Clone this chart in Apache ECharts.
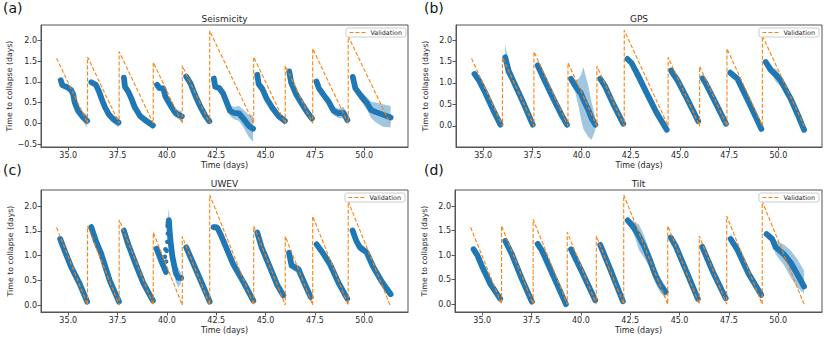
<!DOCTYPE html>
<html><head><meta charset="utf-8">
<script src="https://cdn.jsdelivr.net/npm/echarts@6/dist/echarts.min.js"></script>
<style>html,body{margin:0;padding:0;background:#fff}#c{width:830px;height:341px}</style>
</head><body><div id="c"></div>
<script>
// ---------------- data ----------------
const panelTitles = ['Seismicity', 'GPS', 'UWEV', 'Tilt'];
const panelLetters = ['(a)', '(b)', '(c)', '(d)'];
const xTicks = [35, 37.5, 40, 42.5, 45, 47.5, 50];
const yTicksA = [-0.5, 0, 0.5, 1, 1.5, 2];
const yTicksBCD = [0, 0.5, 1, 1.5, 2];

// Validation sawtooth vertices (time, time to collapse)
const validT = [34.41, 35.98, 35.98, 37.58, 37.58, 39.31, 39.31, 40.78, 40.78, 42.17, 42.17, 44.40, 44.40, 46.00, 46.00, 47.39, 47.39, 49.19, 49.19, 51.31];
const validV = [1.57, 0, 1.60, 0, 1.73, 0, 1.47, 0, 1.39, 0, 2.23, 0, 1.60, 0, 1.39, 0, 1.80, 0, 2.10, 0];

// Predictions per cycle: [time, mean, lower, upper]
const seismicity = [
  [[34.62,1.04,0.97,1.11],[34.70,0.92,0.86,0.98],[34.95,0.87,0.81,0.93],[35.15,0.80,0.73,0.87],[35.25,0.70,0.62,0.78],[35.33,0.50,0.42,0.58],[35.50,0.30,0.21,0.39],[35.75,0.15,0.03,0.27],[35.96,0.06,-0.09,0.21]],
  [[36.17,0.99,0.94,1.04],[36.40,0.93,0.88,0.98],[36.55,0.78,0.72,0.84],[36.70,0.58,0.51,0.65],[36.85,0.40,0.33,0.47],[37.05,0.22,0.14,0.30],[37.30,0.09,-0.01,0.19],[37.55,0.02,-0.10,0.14]],
  [[37.82,1.10,1.04,1.16],[37.88,0.88,0.81,0.95],[38.05,0.76,0.69,0.83],[38.20,0.60,0.53,0.67],[38.38,0.38,0.30,0.46],[38.65,0.17,0.09,0.25],[38.95,0.06,-0.03,0.15],[39.29,-0.05,-0.15,0.05]],
  [[39.50,0.93,0.88,0.98],[39.62,0.85,0.80,0.90],[39.82,0.84,0.78,0.90],[39.92,0.65,0.58,0.72],[40.10,0.50,0.42,0.58],[40.25,0.38,0.29,0.47],[40.45,0.24,0.14,0.34],[40.76,0.17,0.05,0.29]],
  [[40.98,1.13,1.07,1.19],[41.20,0.96,0.88,1.04],[41.45,0.66,0.58,0.74],[41.70,0.40,0.31,0.49],[41.95,0.18,0.09,0.27],[42.15,0.05,-0.03,0.13]],
  [[42.38,1.08,1.03,1.13],[42.45,0.88,0.82,0.94],[42.65,0.85,0.78,0.92],[42.85,0.72,0.64,0.80],[43.05,0.48,0.38,0.58],[43.20,0.30,0.18,0.42],[43.40,0.25,0.10,0.40],[43.65,0.24,0.06,0.42],[43.90,0.10,-0.12,0.32],[44.15,-0.06,-0.33,0.21],[44.37,-0.13,-0.45,0.19]],
  [[44.58,1.17,1.10,1.24],[44.65,0.95,0.87,1.03],[44.85,0.82,0.74,0.90],[45.05,0.60,0.51,0.69],[45.35,0.37,0.28,0.46],[45.65,0.18,0.09,0.27],[45.98,0.06,-0.04,0.16]],
  [[46.20,1.25,1.17,1.33],[46.30,0.98,0.89,1.07],[46.55,0.70,0.60,0.80],[46.85,0.46,0.36,0.56],[47.15,0.24,0.14,0.34],[47.35,0.12,0.03,0.21]],
  [[47.58,1.01,0.95,1.07],[47.70,0.85,0.78,0.92],[47.95,0.68,0.60,0.76],[48.20,0.52,0.42,0.62],[48.45,0.30,0.20,0.40],[48.70,0.24,0.12,0.36],[48.95,0.26,0.12,0.40],[49.15,0.08,-0.04,0.20]],
  [[49.42,1.12,1.04,1.20],[49.55,0.85,0.75,0.95],[49.85,0.65,0.53,0.77],[50.15,0.48,0.33,0.63],[50.35,0.32,0.12,0.52],[50.60,0.27,0.02,0.50],[50.95,0.21,-0.08,0.46],[51.34,0.14,-0.10,0.42]]
];
const gps = [
  [[34.56,1.21,1.16,1.26],[34.80,1.05,0.97,1.13],[35.10,0.78,0.72,0.84],[35.50,0.38,0.33,0.43],[35.88,0.03,-0.01,0.07]],
  [[36.12,1.60,1.25,1.92],[36.30,1.28,1.12,1.42],[36.60,0.98,0.91,1.05],[37.00,0.58,0.53,0.63],[37.52,0.03,-0.01,0.07]],
  [[37.77,1.41,1.36,1.46],[38.00,1.18,1.13,1.23],[38.50,0.70,0.65,0.75],[39.00,0.24,0.20,0.28],[39.26,0.03,-0.01,0.07]],
  [[39.46,1.10,1.05,1.15],[39.65,0.95,0.85,1.05],[39.85,0.82,0.45,1.10],[39.97,0.76,0.16,1.18],[40.09,0.62,-0.07,1.37],[40.34,0.38,-0.26,0.94],[40.51,0.18,-0.32,0.55],[40.70,0.03,-0.10,0.20]],
  [[40.95,1.10,1.05,1.15],[41.20,0.92,0.86,0.98],[41.60,0.52,0.47,0.57],[42.12,0.05,0.01,0.09]],
  [[42.33,1.56,1.52,1.60],[42.55,1.46,1.40,1.52],[42.90,1.15,1.00,1.30],[43.30,0.78,0.62,0.92],[43.80,0.32,0.20,0.44],[44.33,-0.09,-0.18,0.00]],
  [[44.55,1.29,1.24,1.34],[44.88,1.06,1.00,1.12],[45.40,0.60,0.55,0.65],[45.93,0.11,0.07,0.15]],
  [[46.15,1.11,1.06,1.16],[46.30,1.00,0.95,1.05],[46.80,0.55,0.50,0.60],[47.34,0.05,0.01,0.09]],
  [[47.56,1.24,1.19,1.29],[47.92,1.10,1.05,1.15],[48.50,0.55,0.48,0.62],[49.14,-0.07,-0.12,-0.02]],
  [[49.36,1.49,1.44,1.54],[49.62,1.30,1.22,1.38],[49.90,1.18,1.02,1.32],[50.12,1.06,0.92,1.20],[50.63,0.63,0.53,0.73],[51.00,0.25,0.15,0.35],[51.31,-0.09,-0.18,0.00]]
];
const uwev = [
  [[34.59,1.34,1.29,1.39],[34.82,1.10,1.05,1.15],[35.15,0.77,0.71,0.83],[35.58,0.43,0.38,0.48],[35.96,0.07,0.03,0.11]],
  [[36.17,1.58,1.53,1.63],[36.40,1.30,1.25,1.35],[36.67,1.04,0.98,1.10],[37.10,0.50,0.45,0.55],[37.57,0.07,0.03,0.11]],
  [[37.82,1.51,1.46,1.56],[38.03,1.24,1.16,1.32],[38.40,0.85,0.78,0.92],[38.80,0.45,0.40,0.50],[39.29,0.09,0.05,0.13]],
  [[39.48,1.14,1.08,1.20],[39.71,0.90,0.84,0.96],[39.95,0.67,0.61,0.73]],
  [[40.07,1.60,1.40,1.85],[40.10,1.72,1.50,1.95],[40.17,1.35,1.15,1.55],[40.27,1.00,0.85,1.15],[40.45,0.65,0.48,0.82],[40.58,0.55,0.35,0.75],[40.72,0.55,0.45,0.65]],
  [[40.98,1.17,1.12,1.22],[41.23,0.94,0.88,1.00],[41.57,0.63,0.58,0.68],[42.17,0.07,0.03,0.11]],
  [[42.36,1.58,1.52,1.64],[42.55,1.57,1.50,1.64],[42.70,1.45,1.40,1.50],[43.36,0.83,0.79,0.87],[43.90,0.45,0.41,0.49],[44.38,0.09,0.04,0.14]],
  [[44.58,1.47,1.42,1.52],[44.80,1.17,1.11,1.23],[45.22,0.77,0.71,0.83],[45.60,0.40,0.35,0.45],[45.90,0.20,0.15,0.25]],
  [[46.19,1.06,1.01,1.11],[46.32,0.80,0.73,0.87],[46.50,0.76,0.68,0.84],[46.66,0.73,0.65,0.81],[47.00,0.42,0.37,0.47],[47.29,0.16,0.11,0.21]],
  [[47.59,1.23,1.17,1.29],[47.93,1.04,0.96,1.12],[48.26,0.83,0.77,0.89],[48.70,0.45,0.41,0.49],[49.14,0.13,0.09,0.17]],
  [[49.41,1.51,1.45,1.57],[49.60,1.30,1.20,1.40],[49.78,1.17,1.08,1.26],[50.12,1.07,1.00,1.14],[50.46,0.77,0.72,0.82],[50.90,0.47,0.43,0.51],[51.34,0.22,0.18,0.26]]
];
const uwevDots = [[39.90,0.98],[39.93,1.13],[39.96,0.88],[39.99,1.10],[40.02,1.28],[40.05,1.45]];
const tilt = [
  [[34.56,1.12,1.06,1.18],[34.75,1.00,0.93,1.07],[34.98,0.78,0.72,0.84],[35.40,0.42,0.37,0.47],[35.91,0.11,0.07,0.15]],
  [[36.17,1.29,1.24,1.34],[36.50,1.02,0.97,1.07],[37.00,0.52,0.47,0.57],[37.52,0.05,0.01,0.09]],
  [[37.81,1.23,1.17,1.29],[38.03,1.09,1.03,1.15],[38.60,0.58,0.53,0.63],[39.24,0.00,-0.04,0.04]],
  [[39.50,1.12,1.07,1.17],[40.10,0.62,0.57,0.67],[40.73,0.08,0.04,0.12]],
  [[40.98,1.21,1.16,1.26],[41.50,0.70,0.65,0.75],[42.13,0.06,0.02,0.10]],
  [[42.37,1.71,1.64,1.78],[42.67,1.57,1.45,1.69],[42.95,1.38,1.10,1.62],[43.20,1.19,0.95,1.40],[43.45,0.95,0.78,1.12],[43.79,0.58,0.42,0.74],[44.05,0.38,0.22,0.52],[44.30,0.25,0.14,0.36]],
  [[44.55,1.36,1.30,1.42],[44.80,1.19,1.13,1.25],[45.40,0.62,0.57,0.67],[45.93,0.11,0.07,0.15]],
  [[46.15,1.17,1.12,1.22],[46.70,0.65,0.60,0.70],[47.34,0.12,0.07,0.17]],
  [[47.59,1.33,1.22,1.44],[47.92,1.12,1.03,1.21],[48.50,0.62,0.56,0.68],[49.14,0.19,0.14,0.24]],
  [[49.41,1.43,1.37,1.49],[49.70,1.33,1.25,1.41],[49.87,1.16,1.02,1.30],[50.29,1.02,0.80,1.22],[50.63,0.85,0.55,1.10],[50.97,0.61,0.34,0.92],[51.31,0.36,0.22,0.68]]
];

// ---------------- layout ----------------
const FONT = 'DejaVu Sans';
const TXT = '#262626';
const AX = '#555';
const BLUE = '#1f77b4';
const ORANGE = '#ff7f0e';
const panels = [
  { segs: seismicity, grid: {left: 41, top: 25, width: 367, height: 122}, y: [-0.57, 2.37], yt: yTicksA, leg: {right: 424, top: 28}, title: [224.5, 19], letter: [3, 8] },
  { segs: gps, grid: {left: 456, top: 25, width: 366, height: 122}, y: [-0.49, 2.35], yt: yTicksBCD, leg: {right: 11, top: 28}, title: [639, 19], letter: [424, 8] },
  { segs: uwev, grid: {left: 41, top: 190, width: 367, height: 122}, y: [-0.14, 2.33], yt: yTicksBCD, leg: {right: 425, top: 193}, title: [224.5, 183.5], letter: [3, 170] },
  { segs: tilt, grid: {left: 455, top: 190, width: 367, height: 122}, y: [-0.16, 2.33], yt: yTicksBCD, leg: {right: 11, top: 193}, title: [638.5, 183.5], letter: [424, 170] }
];

const fmt = v => (v < 0 ? '\u2212' : '') + Math.abs(v).toFixed(1);

const grids = [], xAxes = [], yAxes = [], series = [], legends = [], graphics = [];
panels.forEach((p, i) => {
  grids.push(Object.assign({show: true, borderColor: AX, borderWidth: 1, backgroundColor: 'transparent'}, p.grid));
  xAxes.push({
    type: 'value', gridIndex: i, min: 33.62, max: 52.22, position: 'bottom',
    axisLine: {show: true, onZero: false, lineStyle: {color: AX, width: 1}}, splitLine: {show: false},
    axisTick: {show: true, inside: false, length: 3.5, customValues: xTicks, lineStyle: {color: AX, width: 1}},
    axisLabel: {customValues: xTicks, formatter: v => v.toFixed(1), fontSize: 8, fontFamily: FONT, color: TXT, margin: 4},
    name: 'Time (days)', nameLocation: 'middle', nameGap: 14,
    nameTextStyle: {fontSize: 8, fontFamily: FONT, color: TXT}
  });
  yAxes.push({
    type: 'value', gridIndex: i, min: p.y[0], max: p.y[1], position: 'left',
    axisLine: {show: true, onZero: false, lineStyle: {color: AX, width: 1}}, splitLine: {show: false},
    axisTick: {show: true, inside: false, length: 3.5, customValues: p.yt, lineStyle: {color: AX, width: 1}},
    axisLabel: {customValues: p.yt, formatter: fmt, fontSize: 8, fontFamily: FONT, color: TXT, margin: 4},
    name: 'Time to collapse (days)', nameLocation: 'middle', nameGap: 27, nameRotate: 90,
    nameTextStyle: {fontSize: 7.8, fontFamily: FONT, color: TXT}
  });
  const segs = p.segs;
  // uncertainty band
  series.push({
    type: 'custom', xAxisIndex: i, yAxisIndex: i, silent: true, z: 1, clip: true,
    data: segs.map((s, k) => [s[0][0], s[0][1], k]),
    encode: {x: 0, y: 1},
    renderItem: (params, api) => {
      const seg = segs[api.value(2)];
      const up = seg.map(q => api.coord([q[0], q[3]]));
      const lo = seg.slice().reverse().map(q => api.coord([q[0], q[2]]));
      return {type: 'polygon', shape: {points: up.concat(lo)}, style: {fill: 'rgba(31,119,180,0.42)'}};
    }
  });
  // mean prediction (dense markers look like a thick line)
  const meanData = [];
  segs.forEach(s => { s.forEach(q => meanData.push([q[0], q[1]])); meanData.push([s[s.length - 1][0], '-']); });
  series.push({
    type: 'line', xAxisIndex: i, yAxisIndex: i, silent: true, z: 2, symbol: 'none',
    data: meanData, connectNulls: false,
    lineStyle: {color: BLUE, width: 5.8, cap: 'round', join: 'round'}
  });
  if (i === 2) {
    series.push({
      type: 'scatter', xAxisIndex: i, yAxisIndex: i, silent: true, z: 2,
      data: uwevDots, symbolSize: 4.5, itemStyle: {color: BLUE, opacity: 1}
    });
  }
  series.push({
    name: 'Validation', type: 'line', xAxisIndex: i, yAxisIndex: i, silent: true, z: 3,
    symbol: 'none', showSymbol: false,
    data: validT.map((t, j) => [t, validV[j]]),
    lineStyle: {color: ORANGE, width: 1.1, type: [4, 2]}, itemStyle: {color: ORANGE}
  });
  legends.push({
    data: ['Validation'], right: p.leg.right, top: p.leg.top, orient: 'vertical',
    backgroundColor: '#fff', borderColor: '#ccc', borderWidth: 1, borderRadius: 2,
    padding: [1.5, 4, 1.5, 3], itemWidth: 16, itemHeight: 6, itemGap: 2,
    itemStyle: {opacity: 0},
    lineStyle: {color: ORANGE, width: 1.1, type: [4, 2]},
    textStyle: {fontSize: 6.4, fontFamily: FONT, color: TXT}, selectedMode: false
  });
  graphics.push({type: 'text', x: p.title[0], y: p.title[1], style: {text: panelTitles[i], fontSize: 9, fontFamily: FONT, fill: TXT, align: 'center', verticalAlign: 'middle'}});
  graphics.push({type: 'text', x: p.letter[0], y: p.letter[1], style: {text: panelLetters[i], fontSize: 14, fontFamily: FONT, fill: '#111', align: 'left', verticalAlign: 'middle'}});
});

const chart = echarts.init(document.getElementById('c'), null, {renderer: 'svg', width: 830, height: 341});
chart.setOption({
  animation: false,
  backgroundColor: '#fff',
  textStyle: {fontFamily: FONT},
  grid: grids, xAxis: xAxes, yAxis: yAxes, series: series, legend: legends, graphic: graphics
});
</script>
</body></html>
